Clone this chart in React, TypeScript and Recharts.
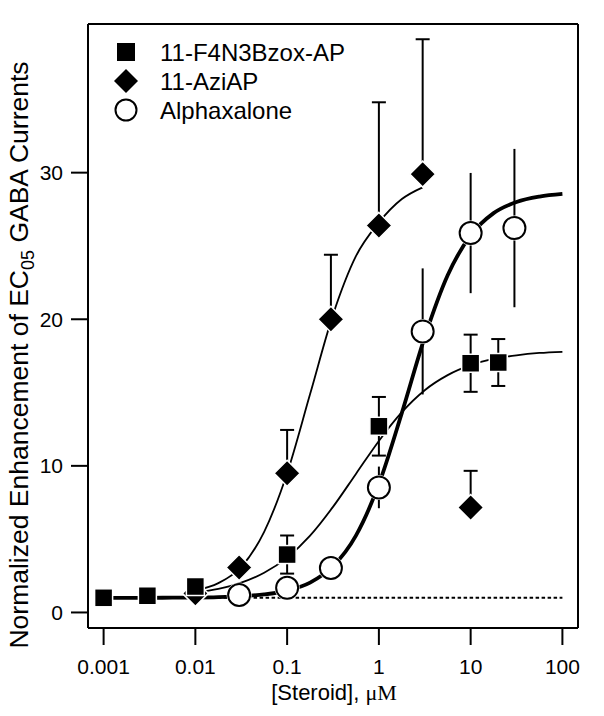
import React from "react";
import { ComposedChart, ErrorBar, Legend, Line, Scatter, XAxis, YAxis } from "recharts";

const FONT = "'Liberation Sans', Arial, Helvetica, sans-serif";

const xTicks = [0.001, 0.01, 0.1, 1, 10, 100];
const xTickLabels = ["0.001", "0.01", "0.1", "1", "10", "100"];
const yTicks = [0, 10, 20, 30];
const seriesNames = ["11-F4N3Bzox-AP", "11-AziAP", "Alphaxalone"];

// 11-F4N3Bzox-AP, filled squares, +/- error
const bzoxConc = [0.001, 0.003, 0.01, 0.1, 1, 10, 20];
const bzoxMean = [1.0, 1.14, 1.77, 3.95, 12.7, 17.0, 17.05];
const bzoxErr = [0, 0, 0, 1.3, 2.0, 1.95, 1.6];

// 11-AziAP, filled diamonds, upper error only
const aziConc = [0.01, 0.03, 0.1, 0.3, 1, 3, 10];
const aziMean = [1.3, 3.07, 9.5, 20.0, 26.4, 29.9, 7.16];
const aziErrUp = [0, 0, 2.95, 4.4, 8.4, 9.2, 2.5];

// Alphaxalone, open circles, +/- error without caps
const alphConc = [0.03, 0.1, 0.3, 1, 3, 10, 30];
const alphMean = [1.19, 1.68, 3.03, 8.53, 19.17, 25.88, 26.22];
const alphErr = [0, 0, 0, 1.42, 4.3, 4.1, 5.4];

// fitted curves
const bzoxFitX = [0.01, 0.0178, 0.0316, 0.0562, 0.1, 0.178, 0.316, 0.562, 1, 1.78, 3.16, 5.62, 10, 17.8, 31.6, 56.2, 100];
const bzoxFitY = [1.36, 1.61, 2.03, 2.71, 3.74, 5.24, 7.2, 9.45, 11.7, 13.66, 15.16, 16.19, 16.87, 17.29, 17.54, 17.7, 17.78];

const aziFitX = [0.01, 0.0178, 0.0316, 0.0562, 0.1, 0.178, 0.316, 0.562, 1, 1.78, 3];
const aziFitY = [1.5, 2.0, 3.1, 5.5, 9.5, 14.9, 20.3, 24.3, 26.6, 28.2, 29.0];

const alphFitX = [0.001, 0.00178, 0.00316, 0.00562, 0.01, 0.0178, 0.0316, 0.0562, 0.1, 0.178, 0.316, 0.562, 1, 1.78, 3.16, 5.62, 10, 17.8, 31.6, 56.2, 100];
const alphFitY = [1.0, 1.0, 1.0, 1.01, 1.02, 1.05, 1.11, 1.23, 1.49, 2.04, 3.15, 5.24, 8.75, 13.61, 18.78, 23.0, 25.72, 27.24, 28.0, 28.37, 28.55];

// control level (dotted)
const baseX = [0.001, 100];
const baseY = [1, 1];

const zip = (xs: number[], ys: number[], es?: any[]) =>
  xs.map((x, i) => ({ x, y: ys[i], err: es ? es[i] : 0 }));

const bzoxData = zip(bzoxConc, bzoxMean, bzoxErr);
const aziData = zip(aziConc, aziMean, aziErrUp.map((u) => (u ? [0, u] : 0)));
const alphData = zip(alphConc, alphMean, alphErr);

const Square = (p: any) => (
  <rect x={p.cx - 9} y={p.cy - 9} width={18} height={18} fill="#000" stroke="#fff" strokeWidth={1.5} />
);
const Diamond = (p: any) => (
  <polygon
    points={`${p.cx},${p.cy - 13} ${p.cx + 13},${p.cy} ${p.cx},${p.cy + 13} ${p.cx - 13},${p.cy}`}
    fill="#000"
    stroke="#fff"
    strokeWidth={1.5}
  />
);
const Circle = (p: any) => (
  <g>
    <circle cx={p.cx} cy={p.cy} r={12.5} fill="#fff" />
    <circle cx={p.cx} cy={p.cy} r={11} fill="#fff" stroke="#000" strokeWidth={2} />
  </g>
);

const LegendBox = () => (
  <svg width={400} height={130} style={{ display: "block" }}>
    <rect x={117} y={43} width={18} height={18} fill="#000" />
    <polygon points="126,69 138,81 126,93 114,81" fill="#000" />
    <circle cx={126} cy={110} r={10.5} fill="#fff" stroke="#000" strokeWidth={2} />
    {seriesNames.map((n, i) => (
      <text key={n} x={160} y={61 + i * 29} fontSize={24} fontFamily={FONT} fill="#000">
        {n}
      </text>
    ))}
  </svg>
);

const axisStroke = { stroke: "#000", strokeWidth: 2 };
const xMin = 0.000676;
const xMax = 147.9;

export default function App() {
  return (
    <div style={{ position: "absolute", left: 0, top: 0, width: 604, height: 716, background: "#fff" }}>
      <ComposedChart width={604} height={716} margin={{ top: 0, right: 0, bottom: 0, left: 0 }}>
        <XAxis
          xAxisId="b"
          dataKey="x"
          type="number"
          scale="log"
          domain={[xMin, xMax]}
          allowDataOverflow
          ticks={xTicks}
          tickFormatter={(v: number) => xTickLabels[xTicks.indexOf(v)] ?? String(v)}
          height={88}
          tickSize={17}
          tickMargin={14}
          axisLine={axisStroke}
          tickLine={axisStroke}
          tick={{ fill: "#000", fontSize: 21, fontFamily: FONT }}
        />
        <XAxis
          xAxisId="t"
          orientation="top"
          dataKey="x"
          type="number"
          scale="log"
          domain={[xMin, xMax]}
          allowDataOverflow
          ticks={xTicks}
          height={24}
          tickSize={17}
          axisLine={axisStroke}
          tickLine={axisStroke}
          tick={false}
        />
        <YAxis
          yAxisId="l"
          dataKey="y"
          type="number"
          domain={[-1.06, 40.14]}
          allowDataOverflow
          ticks={yTicks}
          width={88}
          tickSize={17}
          tickMargin={8}
          axisLine={axisStroke}
          tickLine={axisStroke}
          tick={{ fill: "#000", fontSize: 21, fontFamily: FONT }}
        />
        <YAxis
          yAxisId="r"
          orientation="right"
          dataKey="y"
          type="number"
          domain={[-1.06, 40.14]}
          allowDataOverflow
          ticks={yTicks}
          width={26}
          tickSize={17}
          axisLine={axisStroke}
          tickLine={axisStroke}
          tick={false}
        />
        <Legend
          layout="vertical"
          align="center"
          verticalAlign="middle"
          wrapperStyle={{ left: 0, top: 0, width: 400, height: 130 }}
          content={() => <LegendBox />}
        />
        <Line
          xAxisId="b"
          yAxisId="l"
          data={zip(baseX, baseY)}
          dataKey="y"
          stroke="#000"
          strokeWidth={2}
          strokeDasharray="3.5 2.5"
          dot={false}
          legendType="none"
          isAnimationActive={false}
        />
        <Line
          xAxisId="b"
          yAxisId="l"
          data={zip(aziFitX, aziFitY)}
          dataKey="y"
          type="monotone"
          stroke="#000"
          strokeWidth={1.8}
          dot={false}
          legendType="none"
          isAnimationActive={false}
        />
        <Line
          xAxisId="b"
          yAxisId="l"
          data={zip(bzoxFitX, bzoxFitY)}
          dataKey="y"
          type="monotone"
          stroke="#000"
          strokeWidth={1.8}
          dot={false}
          legendType="none"
          isAnimationActive={false}
        />
        <Line
          xAxisId="b"
          yAxisId="l"
          data={zip(alphFitX, alphFitY)}
          dataKey="y"
          type="monotone"
          stroke="#000"
          strokeWidth={3.8}
          dot={false}
          legendType="none"
          isAnimationActive={false}
        />
        <Scatter xAxisId="b" yAxisId="l" name={seriesNames[1]} data={aziData} dataKey="y" shape={Diamond} isAnimationActive={false}>
          <ErrorBar dataKey="err" direction="y" width={7} stroke="#000" strokeWidth={2} />
        </Scatter>
        <Scatter xAxisId="b" yAxisId="l" name={seriesNames[0]} data={bzoxData} dataKey="y" shape={Square} isAnimationActive={false}>
          <ErrorBar dataKey="err" direction="y" width={7} stroke="#000" strokeWidth={2} />
        </Scatter>
        <Scatter xAxisId="b" yAxisId="l" name={seriesNames[2]} data={alphData} dataKey="y" shape={Circle} isAnimationActive={false}>
          <ErrorBar dataKey="err" direction="y" width={0} stroke="#000" strokeWidth={2} />
        </Scatter>
      </ComposedChart>
      <svg width={604} height={716} style={{ position: "absolute", left: 0, top: 0, pointerEvents: "none" }}>
        <text x={334} y={700} textAnchor="middle" fontSize={22} fontFamily={FONT} fill="#000">
          [Steroid],{" "}
          <tspan fontFamily="'Liberation Serif', 'Times New Roman', serif">μM</tspan>
        </text>
        <text
          x={0}
          y={0}
          transform="translate(28 355) rotate(-90)"
          textAnchor="middle"
          fontSize={26.5}
          fontFamily={FONT}
          fill="#000"
        >
          Normalized Enhancement of EC
          <tspan fontSize={18} dy={6}>05</tspan>
          <tspan dy={-6}> GABA Currents</tspan>
        </text>
      </svg>
    </div>
  );
}
